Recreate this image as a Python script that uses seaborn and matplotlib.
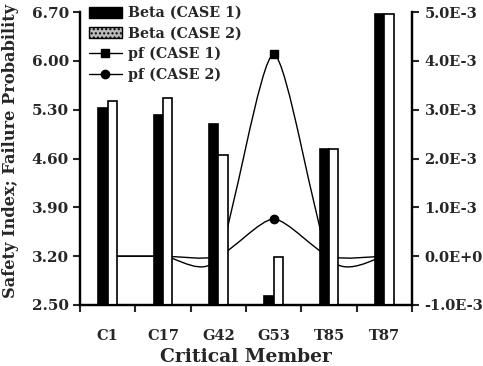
import numpy as np
import pandas as pd
import matplotlib
matplotlib.use("Agg")
import matplotlib.pyplot as plt
from matplotlib.path import Path
from matplotlib.patches import PathPatch, Patch
from matplotlib.lines import Line2D
import seaborn as sns

members = ["C1", "C17", "G42", "G53", "T85", "T87"]
beta_case1 = [5.32, 5.22, 5.10, 2.63, 4.74, 6.67]
beta_case2 = [5.43, 5.47, 4.65, 3.19, 4.74, 6.67]
pf_case1 = [0.0, 0.0, 0.0, 4.13e-3, 0.0, 0.0]
pf_case2 = [0.0, 0.0, 0.0, 0.76e-3, 0.0, 0.0]
beta_ticks = [2.50, 3.20, 3.90, 4.60, 5.30, 6.00, 6.70]
pf_ticks = [-1.0e-3, 0.0, 1.0e-3, 2.0e-3, 3.0e-3, 4.0e-3, 5.0e-3]
pf_ticklabels = ["-1.0E-3", "0.0E+0", "1.0E-3", "2.0E-3", "3.0E-3", "4.0E-3", "5.0E-3"]

sns.set_theme(style="ticks")
plt.rcParams["font.family"] = ["DejaVu Serif"]
plt.rcParams["font.weight"] = "bold"
plt.rcParams["axes.labelweight"] = "bold"

W, H = 483, 366
fig = plt.figure(figsize=(W / 100, H / 100), dpi=100)
L, R, T, B = 80, 412, 12, 305
ax = fig.add_axes([L / W, 1 - B / H, (R - L) / W, (B - T) / H])
ax2 = ax.twinx()

df = pd.DataFrame({
    "member": members * 2,
    "beta": beta_case1 + beta_case2,
    "case": ["Beta (CASE 1)"] * len(members) + ["Beta (CASE 2)"] * len(members),
})
sns.barplot(data=df, x="member", y="beta", hue="case", palette=["black", "white"],
            width=0.34, ax=ax, edgecolor="black", linewidth=1.2, legend=False,
            errorbar=None, gap=0)

# smooth (Excel-like) curves for pf
def smooth_path(x, y, f=0.12):
    n = len(x)
    verts = [(x[0], y[0])]
    codes = [Path.MOVETO]
    for i in range(n - 1):
        ip, inx = max(i - 1, 0), min(i + 2, n - 1)
        c1 = (x[i] + (x[i + 1] - x[ip]) * f, y[i] + (y[i + 1] - y[ip]) * f)
        c2 = (x[i + 1] - (x[inx] - x[i]) * f, y[i + 1] - (y[inx] - y[i]) * f)
        verts += [c1, c2, (x[i + 1], y[i + 1])]
        codes += [Path.CURVE4] * 3
    return Path(verts, codes)

xpos = np.arange(len(members), dtype=float)
for vals, mk in [(pf_case1, "s"), (pf_case2, "o")]:
    ax2.add_patch(PathPatch(smooth_path(xpos, vals), facecolor="none",
                            edgecolor="black", lw=1.0))
    ax2.plot(xpos, vals, linestyle="none", marker=mk, color="black", markersize=6)

ax.set_zorder(ax2.get_zorder() + 1)
ax.patch.set_visible(False)

ax.set_xlim(-0.5, len(members) - 0.5)
ax.set_ylim(beta_ticks[0], beta_ticks[-1])
ax2.set_ylim(pf_ticks[0], pf_ticks[-1])

ax.set_yticks(beta_ticks)
ax.set_yticklabels([f"{v:.2f}" for v in beta_ticks])
ax2.set_yticks(pf_ticks)
ax2.set_yticklabels(pf_ticklabels)

ax.set_xticks(xpos)
ax.set_xticklabels(members)
ax.set_xticks(np.arange(-0.5, len(members), 1.0), minor=True)
ax.tick_params(axis="x", which="major", length=0, pad=17, labelsize=10.5)
ax.tick_params(axis="x", which="minor", length=5, width=1.5, direction="out")
ax.tick_params(axis="y", length=5, width=1.5, labelsize=11, pad=3)
ax2.tick_params(axis="y", length=5, width=1.5, labelsize=10.5, pad=4)

for a in (ax, ax2):
    a.spines["top"].set_visible(False)
    for s in ("left", "right", "bottom"):
        a.spines[s].set_linewidth(1.6)
        a.spines[s].set_color("black")

ax.set_xlabel("Critical Member", fontsize=13.5, fontweight="bold", labelpad=4)
ax.set_ylabel("Safety Index; Failure Probability", fontsize=11.7, fontweight="bold")
ax.yaxis.set_label_coords(-0.185, 0.525)
ax2.set_ylabel("")

handles = [
    Patch(facecolor="black", edgecolor="black"),
    Patch(facecolor="#bbbbbb", edgecolor="black", hatch="...."),
    Line2D([0], [0], color="black", lw=1, marker="s", markersize=6),
    Line2D([0], [0], color="black", lw=1, marker="o", markersize=6),
]
labels = ["Beta (CASE 1)", "Beta (CASE 2)", "pf (CASE 1)", "pf (CASE 2)"]
ax.legend(handles, labels, loc="upper left", bbox_to_anchor=(0.01, 1.04),
          frameon=False, handlelength=2.3, handleheight=0.8,
          handletextpad=0.4, labelspacing=0.45, borderaxespad=0,
          prop={"weight": "bold", "size": 10.3})

fig.savefig("out.png", dpi=100, facecolor="white")
